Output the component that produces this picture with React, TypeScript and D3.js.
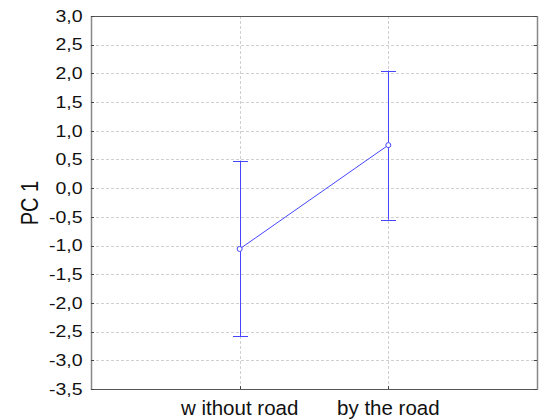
import React from 'react';
import * as d3 from 'd3';

// data
const groups = ['w ithout road', 'by the road'];
const means = [-1.06, 0.75];
const upper = [0.48, 2.05];
const lower = [-2.58, -0.55];
const yTicks = [3.0, 2.5, 2.0, 1.5, 1.0, 0.5, 0.0, -0.5, -1.0, -1.5, -2.0, -2.5, -3.0, -3.5];

const W = 558;
const H = 419;
const left = 91;
const right = 537;
const top = 16;
const bottom = 389;

const App = () => {
  // categories sit at 1 and 2 on a 0..3 axis
  const x = d3.scaleLinear().domain([0, 3]).range([left, right]);
  const y = d3.scaleLinear().domain([-3.5, 3.0]).range([bottom, top]);
  const fmt = (v: number) => v.toFixed(1).replace('.', ',');
  const line = d3.line<number>()
    .x((_, i) => x(i + 1))
    .y(d => y(d));

  const blue = '#4646ff';
  const font = '"Liberation Sans", Arial, sans-serif';

  return (
    <svg width={W} height={H} style={{ position: 'absolute', left: 0, top: 0 }}>
      <rect x={0} y={0} width={W} height={H} fill="#fff" />
      {/* grid */}
      {yTicks.slice(1, -1).map(t => (
        <line key={'g' + t} x1={left} x2={right} y1={Math.round(y(t)) + 0.5} y2={Math.round(y(t)) + 0.5}
          stroke="#d0d0d0" strokeDasharray="3,2" />
      ))}
      {groups.map((g, i) => (
        <line key={'v' + g} x1={Math.round(x(i + 1)) + 0.5} x2={Math.round(x(i + 1)) + 0.5} y1={top} y2={bottom}
          stroke="#d0d0d0" strokeDasharray="3,2" />
      ))}
      {/* frame */}
      <line x1={left} x2={right} y1={top + 0.5} y2={top + 0.5} stroke="#555" />
      <line x1={left} x2={right} y1={bottom + 0.5} y2={bottom + 0.5} stroke="#555" />
      <line x1={left + 0.5} x2={left + 0.5} y1={top} y2={bottom + 1} stroke="#888" strokeWidth={1.5} />
      <line x1={right + 0.5} x2={right + 0.5} y1={top} y2={bottom + 1} stroke="#888" strokeWidth={1.5} />
      {/* ticks */}
      {yTicks.map(t => (
        <g key={'t' + t}>
          <line x1={left} x2={left + 3} y1={Math.round(y(t)) + 0.5} y2={Math.round(y(t)) + 0.5} stroke="#444" />
          <line x1={right - 3} x2={right} y1={Math.round(y(t)) + 0.5} y2={Math.round(y(t)) + 0.5} stroke="#444" />
          <text transform={`translate(82.5,${y(t)}) scale(1.22,1)`} dy="0.36em" textAnchor="end"
            fontFamily={font} fontSize={16} fill="#111">
            {fmt(t)}
          </text>
        </g>
      ))}
      {groups.map((g, i) => (
        <g key={'c' + g}>
          <line x1={Math.round(x(i + 1)) + 0.5} x2={Math.round(x(i + 1)) + 0.5} y1={bottom - 3} y2={bottom} stroke="#444" />
          <text x={x(i + 1)} y={415} textAnchor="middle" fontFamily={font} fontSize={20.5} fill="#111">
            {g}
          </text>
        </g>
      ))}
      <text transform={`translate(38,203) scale(1.15,1) rotate(-90)`} textAnchor="middle"
        fontFamily={font} fontSize={20} fill="#111">PC 1</text>
      {/* error bars */}
      {groups.map((g, i) => {
        const cx = Math.round(x(i + 1)) + 0.5;
        return (
          <g key={'e' + g} stroke={blue} strokeWidth={1}>
            <line x1={cx} x2={cx} y1={y(upper[i])} y2={y(lower[i])} />
            <line x1={cx - 7.5} x2={cx + 7.5} y1={Math.round(y(upper[i])) + 0.5} y2={Math.round(y(upper[i])) + 0.5} />
            <line x1={cx - 7.5} x2={cx + 7.5} y1={Math.round(y(lower[i])) + 0.5} y2={Math.round(y(lower[i])) + 0.5} />
          </g>
        );
      })}
      <path d={line(means) || ''} fill="none" stroke={blue} strokeWidth={1} />
      {means.map((m, i) => (
        <circle key={'p' + i} cx={x(i + 1)} cy={y(m)} r={2.5} fill="#fff" stroke={blue} strokeWidth={1} />
      ))}
    </svg>
  );
};

export default App;
